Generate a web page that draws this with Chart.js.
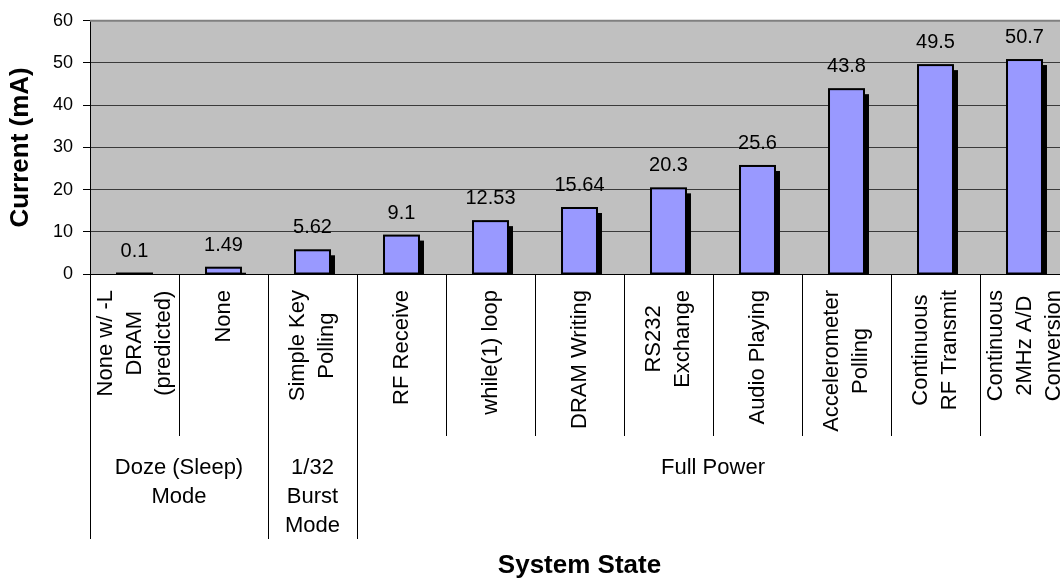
<!DOCTYPE html>
<html>
<head>
<meta charset="utf-8">
<script src="https://cdn.jsdelivr.net/npm/chart.js@4.4.0/dist/chart.umd.min.js"></script>
<style>
html,body{margin:0;padding:0;background:#fff;overflow:hidden;width:1060px;height:583px}
canvas{display:block}
</style>
</head>
<body>
<canvas id="c" width="1075" height="583"></canvas>
<script>
// ---- data ----
const categories = [
  ['None w/ -L', 'DRAM', '(predicted)'],
  ['None'],
  ['Simple Key', 'Polling'],
  ['RF Receive'],
  ['while(1) loop'],
  ['DRAM Writing'],
  ['RS232', 'Exchange'],
  ['Audio Playing'],
  ['Accelerometer', 'Polling'],
  ['Continuous', 'RF Transmit'],
  ['Continuous', '2MHz A/D', 'Conversion']
];
const values = [0.1, 1.49, 5.62, 9.1, 12.53, 15.64, 20.3, 25.6, 43.8, 49.5, 50.7];
const groupLabels = [['Doze (Sleep)', 'Mode'], ['1/32', 'Burst', 'Mode'], ['Full Power']];
const groupStart = [0, 2, 3];
const groupEnd = [1, 2, 10];
const yMin = 0, yMax = 60, yStep = 10;
const yTitle = 'Current (mA)';
const xTitle = 'System State';

// ---- styling ----
const FONT = "'Liberation Sans', Arial, Helvetica, sans-serif";
Chart.defaults.font.family = FONT;
Chart.defaults.color = '#000';

const plotBg = {
  id: 'plotBg',
  beforeDraw(chart) {
    const {ctx, chartArea: a} = chart;
    ctx.save();
    ctx.fillStyle = '#C0C0C0';
    ctx.fillRect(a.left, a.top, a.right - a.left, a.bottom - a.top);
    ctx.restore();
  }
};

const frame = {
  id: 'frame',
  beforeDatasetsDraw(chart) {
    const {ctx, chartArea: a} = chart;
    ctx.save();
    ctx.strokeStyle = '#808080';
    ctx.lineWidth = 2;
    ctx.beginPath();
    ctx.moveTo(a.left, a.top);
    ctx.lineTo(a.right, a.top);
    ctx.lineTo(a.right, a.bottom);
    ctx.stroke();
    ctx.restore();
  }
};

const SHADOW = 5;
const barShadow = {
  id: 'barShadow',
  beforeDatasetsDraw(chart) {
    const {ctx, chartArea: a} = chart;
    ctx.save();
    ctx.beginPath();
    ctx.rect(a.left, a.top, a.right - a.left, a.bottom - a.top);
    ctx.clip();
    ctx.fillStyle = '#000';
    chart.getDatasetMeta(0).data.forEach(el => {
      const p = el.getProps(['x', 'y', 'base', 'width'], true);
      const h = p.base - p.y;
      ctx.fillRect(p.x - p.width / 2 + SHADOW, p.y + SHADOW, p.width, Math.max(0, h));
    });
    ctx.restore();
  }
};

const barOutline = {
  id: 'barOutline',
  afterDatasetsDraw(chart) {
    const {ctx} = chart;
    ctx.save();
    ctx.strokeStyle = '#000';
    ctx.lineWidth = 2;
    chart.getDatasetMeta(0).data.forEach(el => {
      const p = el.getProps(['x', 'y', 'base', 'width'], true);
      ctx.strokeRect(p.x - p.width / 2, p.y, p.width, p.base - p.y);
    });
    ctx.restore();
  }
};

const valueLabels = {
  id: 'valueLabels',
  afterDatasetsDraw(chart) {
    const {ctx} = chart;
    ctx.save();
    ctx.font = '20px ' + FONT;
    ctx.fillStyle = '#000';
    ctx.textAlign = 'center';
    ctx.textBaseline = 'alphabetic';
    chart.getDatasetMeta(0).data.forEach((el, i) => {
      const p = el.getProps(['x', 'y'], true);
      ctx.fillText(String(values[i]), p.x, p.y - 17);
    });
    ctx.restore();
  }
};

const multiAxis = {
  id: 'multiAxis',
  afterDraw(chart) {
    const {ctx} = chart;
    const xs = chart.scales.x;
    const top = xs.top;
    const half = (xs.getPixelForValue(1) - xs.getPixelForValue(0)) / 2;
    const LINE_H = 29;
    ctx.save();
    ctx.fillStyle = '#000';
    ctx.font = '22px ' + FONT;
    // inner (rotated) category labels
    categories.forEach((lines, i) => {
      const cx = xs.getPixelForValue(i);
      const W = Math.max(...lines.map(l => ctx.measureText(l).width));
      ctx.save();
      ctx.translate(cx, top + 16);
      ctx.rotate(-Math.PI / 2);
      ctx.textAlign = 'center';
      ctx.textBaseline = 'middle';
      lines.forEach((l, j) => ctx.fillText(l, -W / 2, (j - (lines.length - 1) / 2) * LINE_H));
      ctx.restore();
    });
    // group labels
    ctx.textAlign = 'center';
    ctx.textBaseline = 'alphabetic';
    groupLabels.forEach((lines, g) => {
      const cx = (xs.getPixelForValue(groupStart[g]) + xs.getPixelForValue(groupEnd[g])) / 2;
      lines.forEach((l, j) => ctx.fillText(l, cx, top + 200 + j * LINE_H));
    });
    // group boundaries
    ctx.strokeStyle = '#000';
    ctx.lineWidth = 1;
    ctx.beginPath();
    groupStart.forEach((s) => {
      const x = Math.round(xs.getPixelForValue(s) - half) + 0.5;
      ctx.moveTo(x, top);
      ctx.lineTo(x, top + 265);
    });
    const xr = Math.round(xs.getPixelForValue(groupEnd[groupEnd.length - 1]) + half) + 0.5;
    ctx.moveTo(xr, top);
    ctx.lineTo(xr, top + 265);
    ctx.stroke();
    ctx.restore();
  }
};

new Chart(document.getElementById('c'), {
  type: 'bar',
  data: {
    labels: categories.map(c => c.join(' ')),
    datasets: [{
      data: values,
      backgroundColor: '#9999FF',
      borderWidth: 0,
      categoryPercentage: 1,
      barPercentage: 0.393
    }]
  },
  options: {
    responsive: false,
    animation: false,
    layout: {padding: {top: 18, right: 6, left: 0, bottom: 0}},
    plugins: {legend: {display: false}, tooltip: {enabled: false}},
    scales: {
      x: {
        offset: true,
        grid: {display: true, offset: true, drawOnChartArea: false, drawTicks: true, tickLength: 162, color: '#000', lineWidth: 1},
        border: {display: true, color: '#000', width: 1},
        ticks: {display: false},
        title: {display: true, text: xTitle, color: '#000', font: {size: 26, weight: 'bold'}, padding: {top: 0, bottom: 1.4}},
        afterFit: s => { s.height = 309; }
      },
      y: {
        min: yMin,
        max: yMax,
        ticks: {stepSize: yStep, font: {size: 18}, color: '#000', padding: 10},
        grid: {color: '#3a3a3a', tickColor: '#000', tickLength: 7, lineWidth: 1},
        border: {display: true, color: '#000', width: 1},
        title: {display: true, text: yTitle, color: '#000', font: {size: 26, weight: 'bold'}, padding: {top: 5, bottom: 0}},
        afterFit: s => { s.width = 90; }
      }
    }
  },
  plugins: [plotBg, frame, barShadow, barOutline, valueLabels, multiAxis]
});
</script>
</body>
</html>
